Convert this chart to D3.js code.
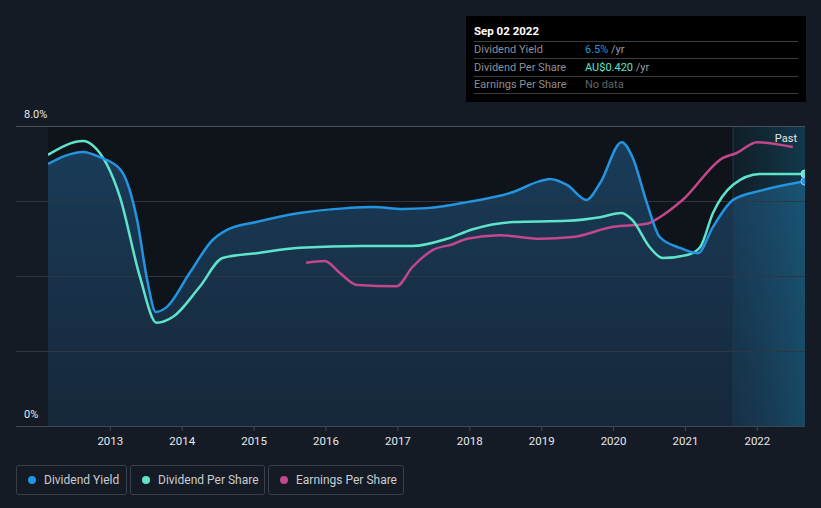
<!DOCTYPE html>
<html><head><meta charset="utf-8">
<script src="https://cdn.jsdelivr.net/npm/d3@7"></script>
<style>
html,body{margin:0;padding:0;background:#151b25;}
svg{display:block;font-family:Roboto,"Noto Sans",sans-serif;}
</style></head>
<body><svg id="c" width="821" height="508"></svg>
<script>
// ---- data (decimal years) ----
const yieldDates = [2012.14,2012.63,2012.86,2013.15,2013.38,2013.52,2013.64,2013.79,2014.11,2014.43,2014.63,2015.04,2015.64,2016.30,2016.66,2017.08,2017.41,2017.97,2018.61,2018.98,2019.12,2019.36,2019.63,2019.82,2020.12,2020.27,2020.47,2020.65,2020.93,2021.18,2021.39,2021.67,2022.04,2022.67];
const yieldValues = [6.99,7.31,7.17,6.83,5.49,3.89,3.04,3.17,4.08,4.96,5.23,5.44,5.68,5.81,5.84,5.79,5.81,5.97,6.24,6.53,6.59,6.43,6.03,6.48,7.57,7.17,5.95,5.04,4.75,4.61,5.31,6.03,6.27,6.53];
const dpsDates = [2012.14,2012.63,2012.76,2013.14,2013.42,2013.65,2013.88,2014.25,2014.57,2015.04,2015.64,2016.52,2017.21,2017.69,2018.05,2018.61,2019.36,2019.82,2020.12,2020.27,2020.51,2020.69,2021.03,2021.21,2021.39,2021.67,2022.04,2022.67];
const dpsValues = [0.452,0.475,0.468,0.382,0.248,0.172,0.182,0.232,0.280,0.288,0.297,0.300,0.300,0.312,0.328,0.340,0.342,0.348,0.355,0.343,0.298,0.280,0.285,0.298,0.355,0.402,0.420,0.420];
const epsDates = [2015.73,2015.99,2016.20,2016.44,2016.99,2017.21,2017.49,2017.77,2017.97,2018.42,2018.98,2019.44,2020.00,2020.47,2020.65,2020.97,2021.53,2021.72,2022.00,2022.50];
const epsValues = [0.272,0.275,0.255,0.235,0.233,0.265,0.293,0.303,0.312,0.318,0.312,0.315,0.332,0.337,0.348,0.377,0.447,0.455,0.473,0.465];
const yearTicks = [2013,2014,2015,2016,2017,2018,2019,2020,2021,2022];
const yieldTicks = [0,2,4,6,8];
const pastStart = 2021.67;
const legendItems = ["Dividend Yield","Dividend Per Share","Earnings Per Share"];
const tipRows = [["Dividend Yield","6.5%"," /yr"],["Dividend Per Share","AU$0.420"," /yr"],["Earnings Per Share","No data",""]];

const C_BLUE="#2394df", C_TEAL="#5fe3cb", C_PINK="#c2478b";
const svg = d3.select("#c");
const L=16, R=805, T=126, B=426, X0=48;
const x = d3.scaleLinear().domain([2012.14,2022.67]).range([X0,R]);
const y = d3.scaleLinear().domain([0,8]).range([B,T]);
const y2 = d3.scaleLinear().domain([0,0.5]).range([B,T]);

const defs = svg.append("defs");
const ag = defs.append("linearGradient").attr("id","ag").attr("x1",0).attr("y1",0).attr("x2",0).attr("y2",1);
ag.append("stop").attr("offset","0%").attr("stop-color","#1d4a6e").attr("stop-opacity",0.75);
ag.append("stop").attr("offset","100%").attr("stop-color","#1b3550").attr("stop-opacity",0.6);
const pg = defs.append("linearGradient").attr("id","pg").attr("x1",0).attr("y1",0).attr("x2",1).attr("y2",0);
pg.append("stop").attr("offset","0%").attr("stop-color","#1a7fa8").attr("stop-opacity",0.10);
pg.append("stop").attr("offset","100%").attr("stop-color","#1a9ccc").attr("stop-opacity",0.28);
defs.append("clipPath").attr("id","clip").append("rect").attr("x",X0).attr("y",T-20).attr("width",R-X0).attr("height",B-T+20);

// plot background
svg.append("rect").attr("x",X0).attr("y",T).attr("width",R-X0).attr("height",B-T).attr("fill","#0f131a");

// area
const yd = yieldDates.map((d,i)=>({t:d,v:yieldValues[i]}));
const dd = dpsDates.map((d,i)=>({t:d,v:dpsValues[i]}));
const ed = epsDates.map((d,i)=>({t:d,v:epsValues[i]}));
const curve = d3.curveMonotoneX;
svg.append("path").datum(yd).attr("fill","url(#ag)")
  .attr("d", d3.area().x(d=>x(d.t)).y0(B).y1(d=>y(d.v)).curve(curve));

// past region
svg.append("rect").attr("x",x(pastStart)).attr("y",T).attr("width",R-x(pastStart)).attr("height",B-T).attr("fill","url(#pg)");
svg.append("line").attr("x1",x(pastStart)).attr("x2",x(pastStart)).attr("y1",T).attr("y2",B).attr("stroke","#1f3a48").attr("stroke-width",1);

// grid
svg.append("g").selectAll("line").data(yieldTicks.filter(d=>d>0)).join("line")
  .attr("x1",L).attr("x2",R).attr("y1",d=>Math.round(y(d))+0.5).attr("y2",d=>Math.round(y(d))+0.5)
  .attr("stroke",d=>d===8?"#4a505b":"#2f3642").attr("stroke-width",1);

// x axis
const xa = svg.append("g").attr("transform",`translate(0,${B})`)
  .call(d3.axisBottom(x).tickValues(yearTicks).tickFormat(d3.format("d")).tickSize(5).tickPadding(6));
xa.select(".domain").remove();
xa.selectAll(".tick line").attr("stroke","#3f4652");
xa.selectAll(".tick text").attr("fill","#e6e8eb").attr("font-size","11.5px").attr("font-family","Roboto,sans-serif");
svg.append("line").attr("x1",L).attr("x2",R).attr("y1",B+0.5).attr("y2",B+0.5).attr("stroke","#3f4652");

// y labels
svg.append("text").attr("x",24).attr("y",y(8)-8).attr("fill","#e6e8eb").attr("font-size","11px").text("8.0%");
svg.append("text").attr("x",24).attr("y",y(0)-8).attr("fill","#e6e8eb").attr("font-size","11px").text("0%");

// lines
const g = svg.append("g").attr("clip-path","url(#clip)");
const line = (sc)=>d3.line().x(d=>x(d.t)).y(d=>sc(d.v)).curve(curve);
g.append("path").datum(ed).attr("fill","none").attr("stroke",C_PINK).attr("stroke-width",2.5).attr("d",line(y2));
g.append("path").datum(dd).attr("fill","none").attr("stroke",C_TEAL).attr("stroke-width",2.5).attr("d",line(y2));
g.append("path").datum(yd).attr("fill","none").attr("stroke",C_BLUE).attr("stroke-width",2.5).attr("d",line(y));
const lastD = dd[dd.length-1], lastY = yd[yd.length-1];
g.append("circle").attr("cx",x(lastD.t)).attr("cy",y2(lastD.v)).attr("r",4).attr("fill",C_TEAL).attr("stroke","#a8f0e3").attr("stroke-width",1);
g.append("circle").attr("cx",x(lastY.t)).attr("cy",y(lastY.v)).attr("r",4).attr("fill",C_BLUE).attr("stroke","#8ccaf2").attr("stroke-width",1);

svg.append("text").attr("x",797).attr("y",142).attr("text-anchor","end").attr("fill","#e6e8eb").attr("font-size","11px").text("Past");

// tooltip
const tip = svg.append("g");
tip.append("rect").attr("x",466).attr("y",16).attr("width",340).attr("height",86).attr("fill","#000");
tip.append("text").attr("x",474).attr("y",35).attr("fill","#fff").attr("font-size","11.5px").attr("font-weight","bold").text("Sep 02 2022");
const rowY=[53,70.5,88], sepY=[41.5,58.5,76.5,93.5];
tip.selectAll("line").data(sepY).join("line").attr("x1",474).attr("x2",798).attr("y1",d=>d).attr("y2",d=>d).attr("stroke","#3a3d44");
const valColors=[C_BLUE,C_TEAL,"#5f646c"];
tipRows.forEach((r,i)=>{
  tip.append("text").attr("x",474).attr("y",rowY[i]).attr("fill","#8a8e96").attr("font-size","11px").text(r[0]);
  const t = tip.append("text").attr("x",585).attr("y",rowY[i]).attr("font-size","11px");
  t.append("tspan").attr("fill",valColors[i]).text(r[1]);
  t.append("tspan").attr("fill","#9a9ea6").text(r[2]);
});

// legend
const legColors=[C_BLUE,C_TEAL,C_PINK];
const legX=[16,130,268], legW=[110,134,135];
legendItems.forEach((s,i)=>{
  const lg = svg.append("g").attr("transform",`translate(${legX[i]},465)`);
  lg.append("rect").attr("x",0.5).attr("y",0.5).attr("width",legW[i]).attr("height",29).attr("rx",2).attr("fill","none").attr("stroke","#3a404b");
  lg.append("circle").attr("cx",16).attr("cy",15).attr("r",4).attr("fill",legColors[i]);
  lg.append("text").attr("x",28).attr("y",19).attr("fill","#c9ccd1").attr("font-size","12px").text(s);
});
</script></body></html>
